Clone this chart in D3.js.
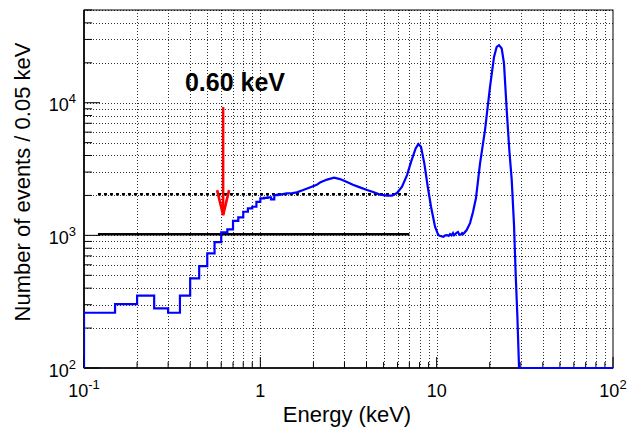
<!DOCTYPE html>
<html>
<head>
<meta charset="utf-8">
<script src="https://cdn.jsdelivr.net/npm/d3@7"></script>
<style>
  html, body { margin: 0; padding: 0; background: #fff; }
  svg { display: block; font-family: "Liberation Sans", Arial, sans-serif; }
</style>
</head>
<body>
<svg id="chart" width="630" height="436"></svg>
<script>
// ---- data ----
// low-energy histogram bins (0.05 keV wide), lower edges in keV and counts
const binLo = [0.10,0.15,0.20,0.25,0.30,0.35,0.40,0.45,0.50,0.55,0.60,0.65,0.70,0.75,0.80,0.85,0.90,0.95,1.00,1.05,1.10,1.15,1.20,1.25];
const binCounts = [261,303,351,282,261,351,474,587,732,890,1054,1110,1288,1367,1506,1598,1643,1791,1900,1920,1933,1868,2012,2030];
const binWidth = 0.05;
// fine-binned spectrum above 1.3 keV
const specE = [1.30,1.41,1.52,1.61,1.75,1.91,2.09,2.18,2.39,2.62,2.83,3.10,3.35,3.67,4.03,4.36,4.77,5.23,5.58,5.96,6.36,6.79,7.15,7.60,7.87,8.15,8.51,8.90,9.29,9.79,10.22,10.50,10.91,11.20,11.45,11.70,11.91,12.15,12.38,12.55,12.71,12.95,13.21,13.45,13.74,13.95,14.16,14.80,15.46,16.07,16.71,17.62,18.80,20.07,21.15,21.90,22.57,23.38,24.09,24.96,25.82,26.65,27.46,28.07,28.67,29.31,29.45];
const specN = [2030,2073,2085,2109,2195,2299,2405,2500,2633,2726,2656,2521,2405,2299,2195,2120,2030,1995,1995,2084,2324,2848,3568,4524,4875,4653,3488,2324,1643,1161,1005,990,976,1000,1005,990,1023,1000,1041,1000,1014,1045,1059,1010,1014,1040,1023,1096,1237,1498,1910,3488,6216,13180,22170,26380,27170,25660,19780,8795,4393,2611,1196,502,251,102,0];
const tailE = [29.45, 100];
const tailN = [0, 0];
const thrE = [0.12, 7.0];
const solidLevel = 1020;
const dashedLevel = 2040;
const arrowE = 0.615;
const arrowTop = 9270, arrowBottom = 1422;
const labelText = "0.60 keV";
const xTickVals = [0.1, 1, 10, 100];
const xTickBase = ["10", "1", "10", "10"];
const xTickExp = ["-1", "", "", "2"];
const yTickVals = [100, 1000, 10000];
const yTickBase = ["10", "10", "10"];
const yTickExp = ["2", "3", "4"];
const xTitle = "Energy (keV)";
const yTitle = "Number of events / 0.05 keV";

// ---- layout ----
const svg = d3.select("#chart");
const L = 84, R = 613, T = 10, B = 368;
const x = d3.scaleLog().domain([0.1, 100]).range([L, R]);
const y = d3.scaleLog().domain([100, 50000]).range([B, T]);
const yv = v => v > 0 ? Math.max(T - 5, Math.min(B, y(v))) : B;

svg.append("rect").attr("width", 630).attr("height", 436).attr("fill", "#fff");

// grid
const xGrid = [];
[0.1, 1, 10].forEach(d => { for (let k = 1; k <= 9; k++) xGrid.push(k * d); });
const yGrid = [];
[100, 1000, 10000].forEach(d => { for (let k = 1; k <= 9; k++) if (k * d <= 50000) yGrid.push(k * d); });
const g = svg.append("g");
g.selectAll(".gx").data(xGrid.filter(v => v > 0.1)).enter().append("line")
  .attr("x1", d => Math.round(x(d)) + 0.5).attr("x2", d => Math.round(x(d)) + 0.5)
  .attr("y1", T).attr("y2", B)
  .attr("stroke", "#333").attr("stroke-width", 1).attr("stroke-dasharray", "1,2");
g.selectAll(".gy").data(yGrid.filter(v => v > 100)).enter().append("line")
  .attr("y1", d => Math.round(y(d)) + 0.5).attr("y2", d => Math.round(y(d)) + 0.5)
  .attr("x1", L).attr("x2", R)
  .attr("stroke", "#333").attr("stroke-width", 1).attr("stroke-dasharray", "1,2");

// frame
svg.append("rect").attr("x", L).attr("y", T).attr("width", R - L).attr("height", B - T)
  .attr("fill", "none").attr("stroke", "#000").attr("stroke-width", 1);
svg.append("line").attr("x1", L).attr("x2", L).attr("y1", T).attr("y2", B).attr("stroke", "#000").attr("stroke-width", 1.6);
svg.append("line").attr("x1", L).attr("x2", R).attr("y1", B).attr("y2", B).attr("stroke", "#000").attr("stroke-width", 1.6);

// ticks (inward)
const tk = svg.append("g").attr("stroke", "#000").attr("stroke-width", 1);
xGrid.concat([100]).forEach(v => {
  const major = xTickVals.includes(v);
  tk.append("line").attr("x1", x(v)).attr("x2", x(v)).attr("y1", B).attr("y2", B - (major ? 11 : 6));
});
yGrid.forEach(v => {
  const major = yTickVals.includes(v);
  tk.append("line").attr("y1", y(v)).attr("y2", y(v)).attr("x1", L).attr("x2", L + (major ? 16 : 8));
});

// tick labels
xTickVals.forEach((v, i) => {
  const t = svg.append("text").attr("x", x(v)).attr("y", 397).attr("text-anchor", "middle")
    .attr("font-size", 18).attr("fill", "#000");
  t.append("tspan").text(xTickBase[i]);
  if (xTickExp[i]) t.append("tspan").attr("dy", -8).attr("font-size", 13).text(xTickExp[i]);
});
yTickVals.forEach((v, i) => {
  const t = svg.append("text").attr("x", 76).attr("y", y(v) + 8.5).attr("text-anchor", "end")
    .attr("font-size", 18).attr("fill", "#000");
  t.append("tspan").text(yTickBase[i]);
  if (yTickExp[i]) t.append("tspan").attr("dy", -8).attr("font-size", 13).text(yTickExp[i]);
});

// titles
svg.append("text").attr("x", 347).attr("y", 422).attr("text-anchor", "middle")
  .attr("font-size", 22).attr("fill", "#000").text(xTitle);
svg.append("text").attr("transform", "translate(29.5,182) rotate(-90)").attr("text-anchor", "middle")
  .attr("font-size", 22).attr("fill", "#000").text(yTitle);

// clip
svg.append("clipPath").attr("id", "clip").append("rect")
  .attr("x", L).attr("y", T).attr("width", R - L).attr("height", B - T + 1);

// threshold lines
svg.append("line").attr("x1", x(thrE[0])).attr("x2", x(thrE[1]))
  .attr("y1", y(dashedLevel)).attr("y2", y(dashedLevel))
  .attr("stroke", "#000").attr("stroke-width", 2.6).attr("stroke-dasharray", "3,3");
svg.append("line").attr("x1", x(thrE[0])).attr("x2", x(thrE[1]))
  .attr("y1", y(solidLevel)).attr("y2", y(solidLevel))
  .attr("stroke", "#000").attr("stroke-width", 2.6);

// spectrum
const pts = [[0.1, 0]];
binLo.forEach((lo, i) => { pts.push([lo, binCounts[i]]); pts.push([lo + binWidth, binCounts[i]]); });
specE.forEach((e, i) => pts.push([e, specN[i]]));
tailE.forEach((e, i) => pts.push([e, tailN[i]]));
const line = d3.line().x(d => x(d[0])).y(d => yv(d[1]));
svg.append("path").attr("d", line(pts)).attr("clip-path", "url(#clip)")
  .attr("fill", "none").attr("stroke", "#0000ff").attr("stroke-width", 2.2)
  .attr("stroke-linejoin", "miter");

// arrow
const ax = x(arrowE), ay1 = y(arrowTop), ay2 = y(arrowBottom);
const ar = svg.append("g").attr("stroke", "#ff0000").attr("stroke-width", 2.6).attr("fill", "none");
ar.append("line").attr("x1", ax).attr("x2", ax).attr("y1", ay1).attr("y2", ay2);
ar.append("path").attr("d", `M${ax - 6},${ay2 - 25} L${ax},${ay2} L${ax + 6},${ay2 - 25}`);

// label
svg.append("text").attr("x", 235).attr("y", 90.5).attr("text-anchor", "middle")
  .attr("font-size", 25).attr("font-weight", "bold").attr("fill", "#000").text(labelText);
</script>
</body>
</html>
